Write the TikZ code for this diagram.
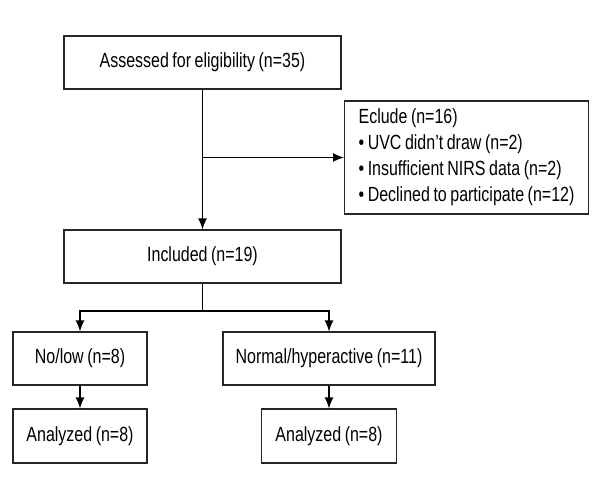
\documentclass[tikz,border=0pt]{standalone}
\usepackage{fontspec}
\setmainfont{Liberation Sans}[FakeStretch=0.78,WordSpace=0.8]
\usepackage{tikz}
\usetikzlibrary{arrows.meta}

\tikzset{
	box/.style={draw=black!85, line width=1.2pt, minimum height=53pt, inner sep=0pt, font=\fontsize{20.5}{26}\selectfont},
	conn/.style={line width=1.2pt, -{Latex[length=11pt,width=9pt]}}
}

\begin{document}
\begin{tikzpicture}[x=1pt,y=-1pt]
				\useasboundingbox (0,0) rectangle (600,500);
				\node[box, minimum width=277pt] (assess) at (202.5,62.5) {Assessed for eligibility (n=35)};
				\node[box, minimum height=113pt, inner xsep=14pt, align=left, anchor=west] (eclude) at (344,157.5)
				{Eclude (n=16)\\ \textbullet\ UVC didn’t draw (n=2)\\ \textbullet\ Insufficient NIRS data (n=2)\\ \textbullet\ Declined to participate (n=12)};
				\node[box, minimum width=277pt] (incl) at (202.5,256.5) {Included (n=19)};
				\node[box, minimum width=134pt] (nolow) at (80,358.5) {No/low (n=8)};
				\node[box, minimum width=212pt] (normal) at (329,358.5) {Normal/hyperactive (n=11)};
				\node[box, minimum width=134pt, minimum height=54pt] (anlow) at (80,436) {Analyzed (n=8)};
				\node[box, minimum width=135pt, minimum height=54pt] (annormal) at (329,436) {Analyzed (n=8)};

				\coordinate (branch) at (assess.south |- eclude.west);
				\coordinate (split) at (202.5,311);
				\draw[conn] (assess.south) -- (incl.north);
				\draw[conn] (branch) -- (eclude.west);
				\draw[line width=1.2pt] (incl.south) -- (split);
				\draw[conn] (split) -| (nolow.north);
				\draw[conn] (split) -| (normal.north);
				\draw[conn] (nolow.south) -- (anlow.north);
				\draw[conn] (normal.south) -- (annormal.north);

			\end{tikzpicture}
\end{document}
